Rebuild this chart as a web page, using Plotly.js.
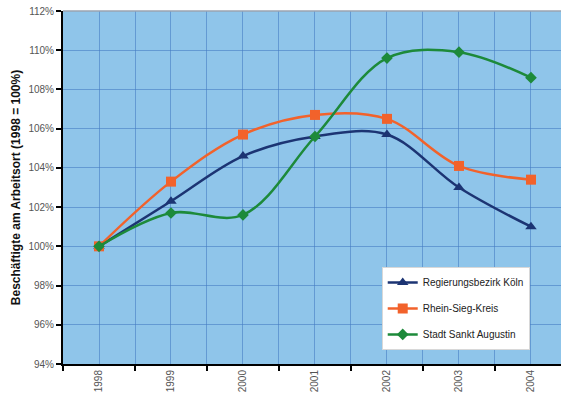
<!DOCTYPE html>
<html>
<head>
<meta charset="utf-8">
<script src="https://cdn.plot.ly/plotly-3.0.1.min.js"></script>
<style>
  html, body { margin: 0; padding: 0; background: #ffffff; }
  #chart { width: 561px; height: 398px; }
</style>
</head>
<body>
<div id="chart"></div>
<script>
// Employment at place of work, indexed to 1998 = 100%
const years = [1998, 1999, 2000, 2001, 2002, 2003, 2004];
const yearLabels = ["1998", "1999", "2000", "2001", "2002", "2003", "2004"];
const koeln = [100, 102.3, 104.6, 105.6, 105.7, 103.0, 101.0];
const rheinSieg = [100, 103.3, 105.7, 106.7, 106.5, 104.1, 103.4];
const sanktAugustin = [100, 101.7, 101.6, 105.6, 109.6, 109.9, 108.6];
const yTicks = [94, 96, 98, 100, 102, 104, 106, 108, 110, 112];
const yTickLabels = yTicks.map(v => v + "%");

const seriesNames = ["Regierungsbezirk Köln", "Rhein-Sieg-Kreis", "Stadt Sankt Augustin"];

function series(name, values, color, symbol, size) {
  return {
    x: years, y: values, name: name, type: "scatter", mode: "lines+markers",
    legendgroup: name,
    line: { color: color, width: 2.5, shape: "spline", smoothing: 1 },
    marker: { color: color, symbol: symbol, size: size }
  };
}

const traces = [
  series(seriesNames[0], koeln, "#1c3473", "triangle-up", 10),
  series(seriesNames[1], rheinSieg, "#f2622b", "square", 10),
  series(seriesNames[2], sanktAugustin, "#1d8a3a", "diamond", 9)
];

const gridColor = "rgba(70,125,195,0.6)";

const layout = {
  width: 561, height: 398,
  margin: { l: 63, r: 0, t: 11, b: 34 },
  paper_bgcolor: "#ffffff",
  plot_bgcolor: "#8fc5ea",
  font: { family: "Liberation Sans, Arial, sans-serif", color: "#222" },
  showlegend: true,
  legend: {
    x: 0.64, xanchor: "left", y: 0.275, yanchor: "top",
    bgcolor: "#ffffff", bordercolor: "#d8d8d8", borderwidth: 1,
    font: { size: 10, color: "#222" },
    tracegroupgap: 7,
    itemwidth: 30
  },
  xaxis: {
    range: [1997.5, 2004.417],
    tickmode: "array", tickvals: years, ticktext: yearLabels,
    tickangle: -90,
    ticks: "",
    tickfont: { size: 10, color: "#555" },
    showgrid: true, gridcolor: gridColor, gridwidth: 1,
    minor: {
      tickmode: "linear", tick0: 1997.5, dtick: 1,
      ticks: "outside", ticklen: 5, tickcolor: "#000", tickwidth: 2,
      showgrid: true, gridcolor: gridColor, gridwidth: 1
    },
    showline: true, linecolor: "#000", linewidth: 2,
    zeroline: false, fixedrange: true
  },
  yaxis: {
    range: [94, 112],
    tickmode: "array", tickvals: yTicks, ticktext: yTickLabels,
    ticks: "outside", ticklen: 5, tickcolor: "#000", tickwidth: 2,
    tickfont: { size: 10, color: "#555" },
    showgrid: true, gridcolor: gridColor, gridwidth: 1,
    showline: true, linecolor: "#000", linewidth: 2,
    zeroline: false, fixedrange: true,
    title: {
      text: "Beschäftigte am Arbeitsort (1998 = 100%)",
      font: { size: 12, color: "#111", weight: "bold" },
      standoff: 5
    }
  },
  shapes: [
    { type: "line", xref: "paper", yref: "paper", x0: 0, x1: 1, y0: 1, y1: 1,
      line: { color: "#9aa3b0", width: 1.5 } }
  ]
};

Plotly.newPlot("chart", traces, layout, { displayModeBar: false, staticPlot: true });
</script>
</body>
</html>
